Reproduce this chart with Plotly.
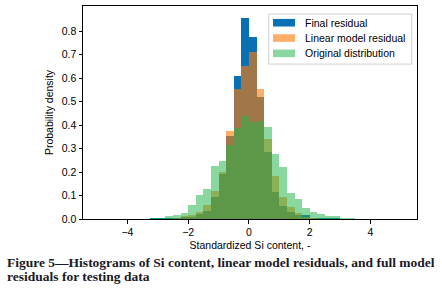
import plotly.graph_objects as go

# Histogram bins (left edges, width 0.25)
bin_left = [-3.25, -3.0, -2.75, -2.5, -2.25, -2.0, -1.75, -1.5, -1.25, -1.0,
            -0.75, -0.5, -0.25, 0.0, 0.25, 0.5, 0.75, 1.0, 1.25, 1.5,
            1.75, 2.0, 2.25, 2.5, 2.75, 3.0, 3.25, 3.5, 3.75]
bin_width = 0.25

final_residual = [0.002, 0.001, 0.001, 0.003, 0.006, 0.010, 0.021, 0.034, 0.094, 0.190,
                  0.354, 0.607, 0.854, 0.775, 0.519, 0.286, 0.115, 0.054, 0.030, 0.016,
                  0.015, 0.004, 0.002, 0.001, 0.001, 0.0, 0.0, 0.0, 0.0]
linear_residual = [0.0, 0.001, 0.002, 0.004, 0.011, 0.018, 0.028, 0.061, 0.119, 0.199,
                   0.374, 0.552, 0.652, 0.711, 0.552, 0.339, 0.182, 0.094, 0.051, 0.026,
                   0.008, 0.005, 0.002, 0.001, 0.0, 0.0, 0.0, 0.0, 0.0]
original = [0.003, 0.004, 0.011, 0.017, 0.027, 0.058, 0.102, 0.127, 0.225, 0.246,
            0.317, 0.388, 0.440, 0.413, 0.416, 0.390, 0.275, 0.222, 0.111, 0.085,
            0.047, 0.028, 0.021, 0.011, 0.013, 0.005, 0.003, 0.0, 0.002]

series_names = ["Final residual", "Linear model residual", "Original distribution"]

x_ticks = [-4, -2, 0, 2, 4]
x_tick_labels = ["\u22124", "\u22122", "0", "2", "4"]
y_ticks = [0.0, 0.1, 0.2, 0.3, 0.4, 0.5, 0.6, 0.7, 0.8]

centers = [b + bin_width / 2 for b in bin_left]

FONT = "Liberation Sans, Arial, sans-serif"
colors = ["rgb(10,112,180)", "rgba(255,125,10,0.62)", "rgba(30,180,70,0.52)"]

# plot area in pixels
L, R, T, B = 83, 417, 6, 218.7
def px(xp):
    return (xp - L) / (R - L)
def py(yp):
    return (B - yp) / (B - T)

fig = go.Figure()
for vals, name, col in zip([final_residual, linear_residual, original], series_names, colors):
    fig.add_trace(go.Bar(x=centers, y=vals, width=bin_width, name=name,
                         marker=dict(color=col, line=dict(width=0))))

fig.update_layout(
    width=442, height=297,
    margin=dict(l=L, r=442 - R, t=T, b=297 - B),
    barmode="overlay", bargap=0,
    paper_bgcolor="white", plot_bgcolor="white",
    font=dict(family=FONT, size=10.5, color="black"),
    showlegend=False,
    xaxis=dict(range=[-5.46, 5.53], tickvals=x_ticks, ticktext=x_tick_labels,
               showgrid=False, zeroline=False, showline=True, linecolor="black",
               linewidth=1, mirror=True, ticks="outside", ticklen=3.5,
               tickcolor="black",
               title=dict(text="Standardized Si content, -", standoff=4,
                          font=dict(size=10.5))),
    yaxis=dict(range=[0, 0.907], tickvals=y_ticks, tickformat=".1f",
               showgrid=False, zeroline=False, showline=True, linecolor="black",
               linewidth=1, mirror=True, ticks="outside", ticklen=3.5,
               tickcolor="black",
               title=dict(text="Probability density", standoff=6,
                          font=dict(size=10.5))),
)

# Legend (matplotlib-style): frame, patches, labels
fig.add_shape(type="rect", xref="paper", yref="paper",
              x0=px(268.7), x1=px(411.7), y0=py(64), y1=py(14),
              line=dict(color="#cfcfcf", width=1), fillcolor="rgba(255,255,255,0.85)")
leg_y = [22.7, 38.0, 53.3]
for name, col, yy in zip(series_names, colors, leg_y):
    fig.add_shape(type="rect", xref="paper", yref="paper",
                  x0=px(273), x1=px(295), y0=py(yy + 3.8), y1=py(yy - 3.8),
                  line=dict(width=0), fillcolor=col)
    fig.add_annotation(xref="paper", yref="paper", x=px(303), y=py(yy),
                       xanchor="left", yanchor="middle", showarrow=False,
                       text=name, font=dict(family=FONT, size=10.5, color="black"))

cap_font = dict(family="Liberation Serif, Times New Roman, serif", size=13.5, color="#1a1a24")
fig.add_annotation(xref="paper", yref="paper", x=px(5), y=py(262.5),
                   xanchor="left", yanchor="middle", showarrow=False,
                   text="<b>Figure 5\u2014Histograms of Si content, linear model residuals, and full model</b>",
                   font=cap_font)
fig.add_annotation(xref="paper", yref="paper", x=px(5), y=py(276),
                   xanchor="left", yanchor="middle", showarrow=False,
                   text="<b>residuals for testing data</b>", font=cap_font)

fig.write_html("out.html", config={"displayModeBar": False},
               post_script="document.body.style.margin='0';document.body.style.padding='0';")
